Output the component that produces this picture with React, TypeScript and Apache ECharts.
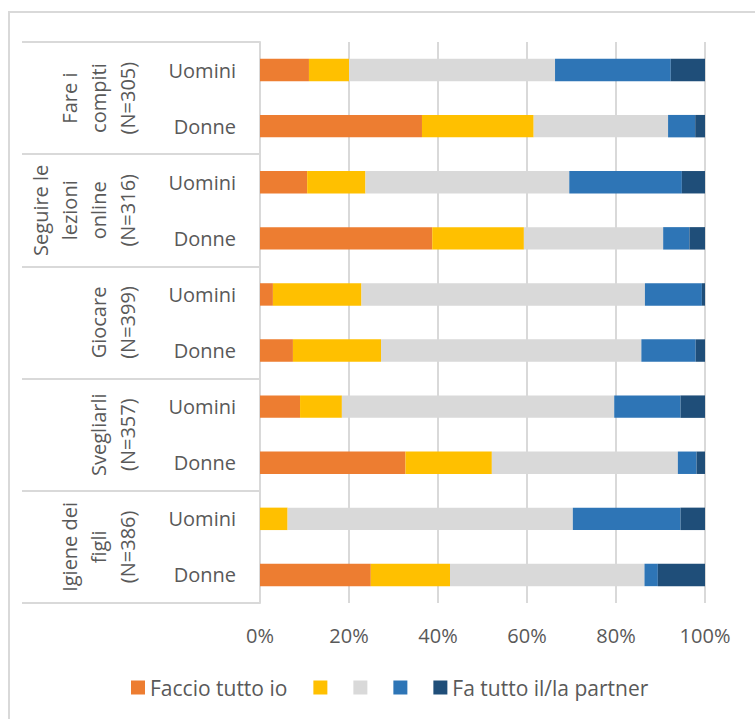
import React, { useEffect, useRef } from "react";
import * as echarts from "echarts";

const rowLabels = ["Uomini", "Donne", "Uomini", "Donne", "Uomini", "Donne", "Uomini", "Donne", "Uomini", "Donne"];
const groupLabels = [
  "Fare i\ncompiti\n(N=305)",
  "Seguire le\nlezioni\nonline\n(N=316)",
  "Giocare\n(N=399)",
  "Svegliarli\n(N=357)",
  "Igiene dei\nfigli\n(N=386)",
];
const seriesNames = ["Faccio tutto io", "s2", "s3", "s4", "Fa tutto il/la partner"];
const legendTexts = ["Faccio tutto io", "", "", "", "Fa tutto il/la partner"];
const faccioTutto = [11.0, 36.4, 10.6, 38.7, 2.9, 7.4, 9.0, 32.7, 0, 24.9];
const secondo = [9.0, 25.1, 13.1, 20.6, 19.9, 19.8, 9.4, 19.4, 6.2, 17.8];
const terzo = [46.3, 30.2, 45.8, 31.3, 63.7, 58.5, 61.2, 41.8, 64.1, 43.7];
const quarto = [26.0, 6.1, 25.3, 5.9, 12.8, 12.2, 14.9, 4.2, 24.2, 3.0];
const partner = [7.7, 2.2, 5.2, 3.5, 0.7, 2.1, 5.5, 1.9, 5.5, 10.6];
const seriesValues = [faccioTutto, secondo, terzo, quarto, partner];
const colors = ["#ED7D31", "#FFC000", "#D9D9D9", "#2E75B6", "#1F4E79"];

const FONT = "'Open Sans', sans-serif";
const TEXT = "#595959";
const GRID = "#D9D9D9";

export default function App() {
  const ref = useRef<HTMLDivElement>(null);
  useEffect(() => {
    if (!ref.current) return;
    const chart = echarts.init(ref.current, undefined, { renderer: "svg" });
    chart.setOption({
      animation: false,
      backgroundColor: "#ffffff",
      textStyle: { fontFamily: FONT },
      grid: { left: 260, right: 50, top: 42, bottom: 116, containLabel: false },
      xAxis: {
        type: "value",
        min: 0,
        max: 100,
        interval: 20,
        axisLine: { show: false },
        axisTick: { show: false },
        axisLabel: { formatter: "{value}%", fontSize: 20, color: TEXT, margin: 22, fontFamily: FONT },
        splitLine: { show: true, lineStyle: { color: GRID, width: 2 } },
      },
      yAxis: [
        {
          type: "category",
          data: rowLabels,
          inverse: true,
          axisLine: { show: true, lineStyle: { color: GRID, width: 2 } },
          axisTick: {
            show: true,
            length: 238,
            interval: (i: number) => i % 2 === 0,
            lineStyle: { color: GRID, width: 2 },
          },
          axisLabel: { fontSize: 20, color: TEXT, margin: 24, fontFamily: FONT },
        },
        {
          type: "category",
          data: groupLabels,
          inverse: true,
          position: "left",
          offset: 110,
          axisLine: { show: false },
          axisTick: { show: false },
          splitLine: { show: false },
          axisLabel: {
            rotate: 90,
            fontSize: 20,
            lineHeight: 29,
            color: TEXT,
            margin: 8,
            fontFamily: FONT,
            interval: 0,
          },
        },
      ],
      legend: {
        left: 126,
        top: 672,
        itemWidth: 14,
        itemHeight: 14,
        itemGap: 26,
        icon: "rect",
        data: seriesNames,
        formatter: (name: string) => legendTexts[seriesNames.indexOf(name)],
        textStyle: { fontSize: 21, color: TEXT, fontFamily: FONT },
      },
      graphic: [
        {
          type: "rect",
          shape: { x: 9, y: 12, width: 900, height: 900 },
          style: { fill: "none", stroke: GRID, lineWidth: 2 },
          silent: true,
        },
      ],
      series: seriesValues.map((vals, i) => ({
        type: "bar",
        name: seriesNames[i],
        stack: "total",
        yAxisIndex: 0,
        barWidth: "40%",
        data: vals,
        itemStyle: { color: colors[i] },
      })),
    });
    return () => chart.dispose();
  }, []);
  return (
    <div
      ref={ref}
      style={{ position: "fixed", left: 0, top: 0, width: 755, height: 719, background: "#fff" }}
    />
  );
}
